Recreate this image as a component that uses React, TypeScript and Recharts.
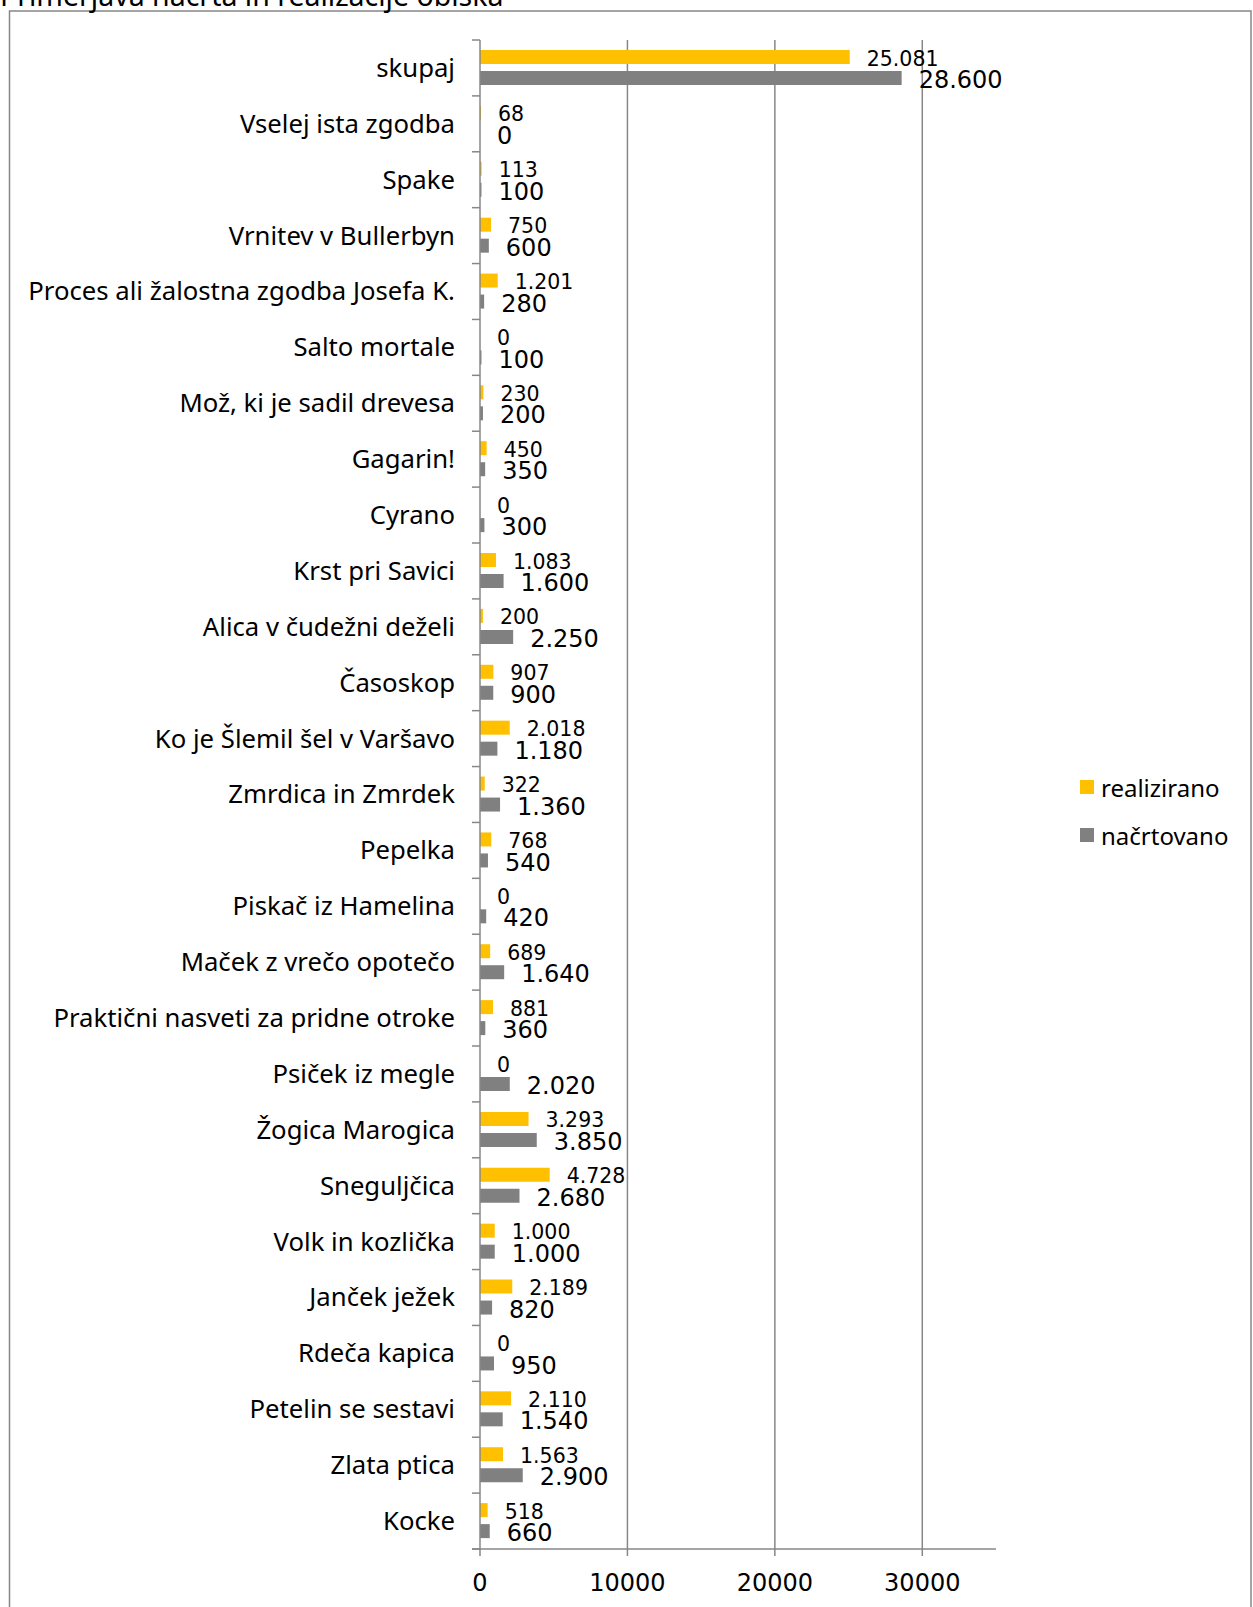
import React from 'react';
import { BarChart, Bar, XAxis, YAxis, CartesianGrid, LabelList, Legend } from 'recharts';

const categories: string[] = [
  'skupaj',
  'Vselej ista zgodba',
  'Spake',
  'Vrnitev v Bullerbyn',
  'Proces ali žalostna zgodba Josefa K.',
  'Salto mortale',
  'Mož, ki je sadil drevesa',
  'Gagarin!',
  'Cyrano',
  'Krst pri Savici',
  'Alica v čudežni deželi',
  'Časoskop',
  'Ko je Šlemil šel v Varšavo',
  'Zmrdica in Zmrdek',
  'Pepelka',
  'Piskač iz Hamelina',
  'Maček z vrečo opotečo',
  'Praktični nasveti za pridne otroke',
  'Psiček iz megle',
  'Žogica Marogica',
  'Sneguljčica',
  'Volk in kozlička',
  'Janček ježek',
  'Rdeča kapica',
  'Petelin se sestavi',
  'Zlata ptica',
  'Kocke',
];

const realizirano: number[] = [
  25081, 68, 113, 750, 1201, 0, 230, 450, 0, 1083, 200, 907, 2018, 322, 768, 0, 689, 881, 0, 3293, 4728, 1000,
  2189, 0, 2110, 1563, 518,
];

const nacrtovano: number[] = [
  28600, 0, 100, 600, 280, 100, 200, 350, 300, 1600, 2250, 900, 1180, 1360, 540, 420, 1640, 360, 2020, 3850, 2680,
  1000, 820, 950, 1540, 2900, 660,
];

const xTicks: number[] = [0, 10000, 20000, 30000];
const gridTicks: number[] = [10000, 20000, 30000];
const xMax = 35000;

const title = 'Primerjava načrta in realizacije obiska';
const seriesNames = { real: 'realizirano', plan: 'načrtovano' };
const legendOrder: string[] = ['realizirano', 'nacrtovano'];

const data = categories.map((name, i) => ({
  name,
  realizirano: realizirano[i],
  nacrtovano: nacrtovano[i],
}));

const FONT = '"Noto Sans", sans-serif';
const NUM_FONT = '"DejaVu Sans", sans-serif';
const AXIS_COLOR = '#878787';
const YELLOW = '#FFC000';
const GRAY = '#808080';

const W = 1253;
const H = 1607;
const M_TOP = 40;
const X_AXIS_H = 58;
const Y_AXIS_W = 480;
const M_RIGHT = 257;
const BAND = (H - M_TOP - X_AXIS_H) / categories.length;

const fmt = (v: any) => String(v).replace(/\B(?=(\d{3})+(?!\d))/g, '.');

const gridX = (props: any) => {
  const scale = props && props.xAxis && props.xAxis.scale;
  if (typeof scale === 'function') return gridTicks.map((t) => scale(t));
  const off = props.offset;
  return gridTicks.map((t) => off.left + (off.width * t) / xMax);
};

const CategoryTick = (props: any) => {
  const { x, y, payload, index } = props;
  return (
    <g>
      <line x1={x + 17} x2={x + 25} y1={y - BAND / 2} y2={y - BAND / 2} stroke={AXIS_COLOR} strokeWidth={1.5} />
      {index === categories.length - 1 ? (
        <line x1={x + 17} x2={x + 25} y1={y + BAND / 2} y2={y + BAND / 2} stroke={AXIS_COLOR} strokeWidth={1.5} />
      ) : null}
      <text x={x} y={y} dy="0.35em" textAnchor="end" fontSize={25.7} fontFamily={FONT} fill="#000">
        {payload.value}
      </text>
    </g>
  );
};

const makeLabel = (fontSize: number) => (props: any) => {
  const { x, y, width, height, value } = props;
  return (
    <text
      x={x + width + 17}
      y={y + height / 2}
      dy="0.42em"
      textAnchor="start"
      fontSize={fontSize}
      fontFamily={NUM_FONT}
      fill="#000"
    >
      {fmt(value)}
    </text>
  );
};

const RealLabel = makeLabel(20.5);
const PlanLabel = makeLabel(24);

const LegendContent = (props: any) => {
  const items = [...(props.payload || [])].sort(
    (a: any, b: any) => legendOrder.indexOf(a.dataKey) - legendOrder.indexOf(b.dataKey)
  );
  return (
    <div style={{ fontFamily: FONT, fontSize: 24, color: '#000' }}>
      {items.map((p: any, i: number) => (
        <div key={i} style={{ display: 'flex', alignItems: 'center', height: 48 }}>
          <span style={{ display: 'inline-block', width: 14, height: 14, background: p.color, marginRight: 7 }} />
          <span>{p.value}</span>
        </div>
      ))}
    </div>
  );
};

export default function App() {
  return (
    <div style={{ position: 'absolute', left: 0, top: 0, width: W, height: H, overflow: 'hidden', background: '#fff' }}>
      <svg width={W} height={H} style={{ position: 'absolute', left: 0, top: 0 }}>
        <rect x={9.5} y={11} width={1241.5} height={1700} fill="none" stroke={AXIS_COLOR} strokeWidth={1.5} />
        <text x={0} y={6} fontSize={28.5} fontFamily={FONT} fill="#000">
          {title}
        </text>
        <line x1={Y_AXIS_W - 8} x2={Y_AXIS_W} y1={H - X_AXIS_H} y2={H - X_AXIS_H} stroke={AXIS_COLOR} strokeWidth={1.5} />
      </svg>
      <div style={{ position: 'absolute', left: 0, top: 0 }}>
        <BarChart
          width={W}
          height={H}
          data={data}
          layout="vertical"
          margin={{ top: M_TOP, right: M_RIGHT, bottom: 0, left: 0 }}
          barSize={14}
          barGap={7}
        >
          <CartesianGrid
            horizontal={false}
            stroke={AXIS_COLOR}
            strokeWidth={1.5}
            verticalCoordinatesGenerator={gridX}
          />
          <XAxis
            type="number"
            domain={[0, xMax]}
            ticks={xTicks}
            height={X_AXIS_H}
            tickSize={7}
            tickMargin={18}
            stroke={AXIS_COLOR}
            strokeWidth={1.5}
            tick={{ fill: '#000', fontSize: 24, fontFamily: NUM_FONT }}
          />
          <YAxis
            type="category"
            dataKey="name"
            width={Y_AXIS_W}
            interval={0}
            tickLine={false}
            tickSize={8}
            tickMargin={17}
            stroke={AXIS_COLOR}
            strokeWidth={1.5}
            tick={<CategoryTick />}
          />
          <Legend
            layout="horizontal"
            verticalAlign="middle"
            align="center"
            itemSorter={null as any}
            content={<LegendContent />}
            wrapperStyle={{ left: 1080, top: 763, width: 172 }}
          />
          <Bar
            dataKey="realizirano"
            name={seriesNames.real}
            fill={YELLOW}
            minPointSize={0.01}
            isAnimationActive={false}
          >
            <LabelList dataKey="realizirano" content={RealLabel} />
          </Bar>
          <Bar
            dataKey="nacrtovano"
            name={seriesNames.plan}
            fill={GRAY}
            minPointSize={0.01}
            isAnimationActive={false}
          >
            <LabelList dataKey="nacrtovano" content={PlanLabel} />
          </Bar>
        </BarChart>
      </div>
    </div>
  );
}
